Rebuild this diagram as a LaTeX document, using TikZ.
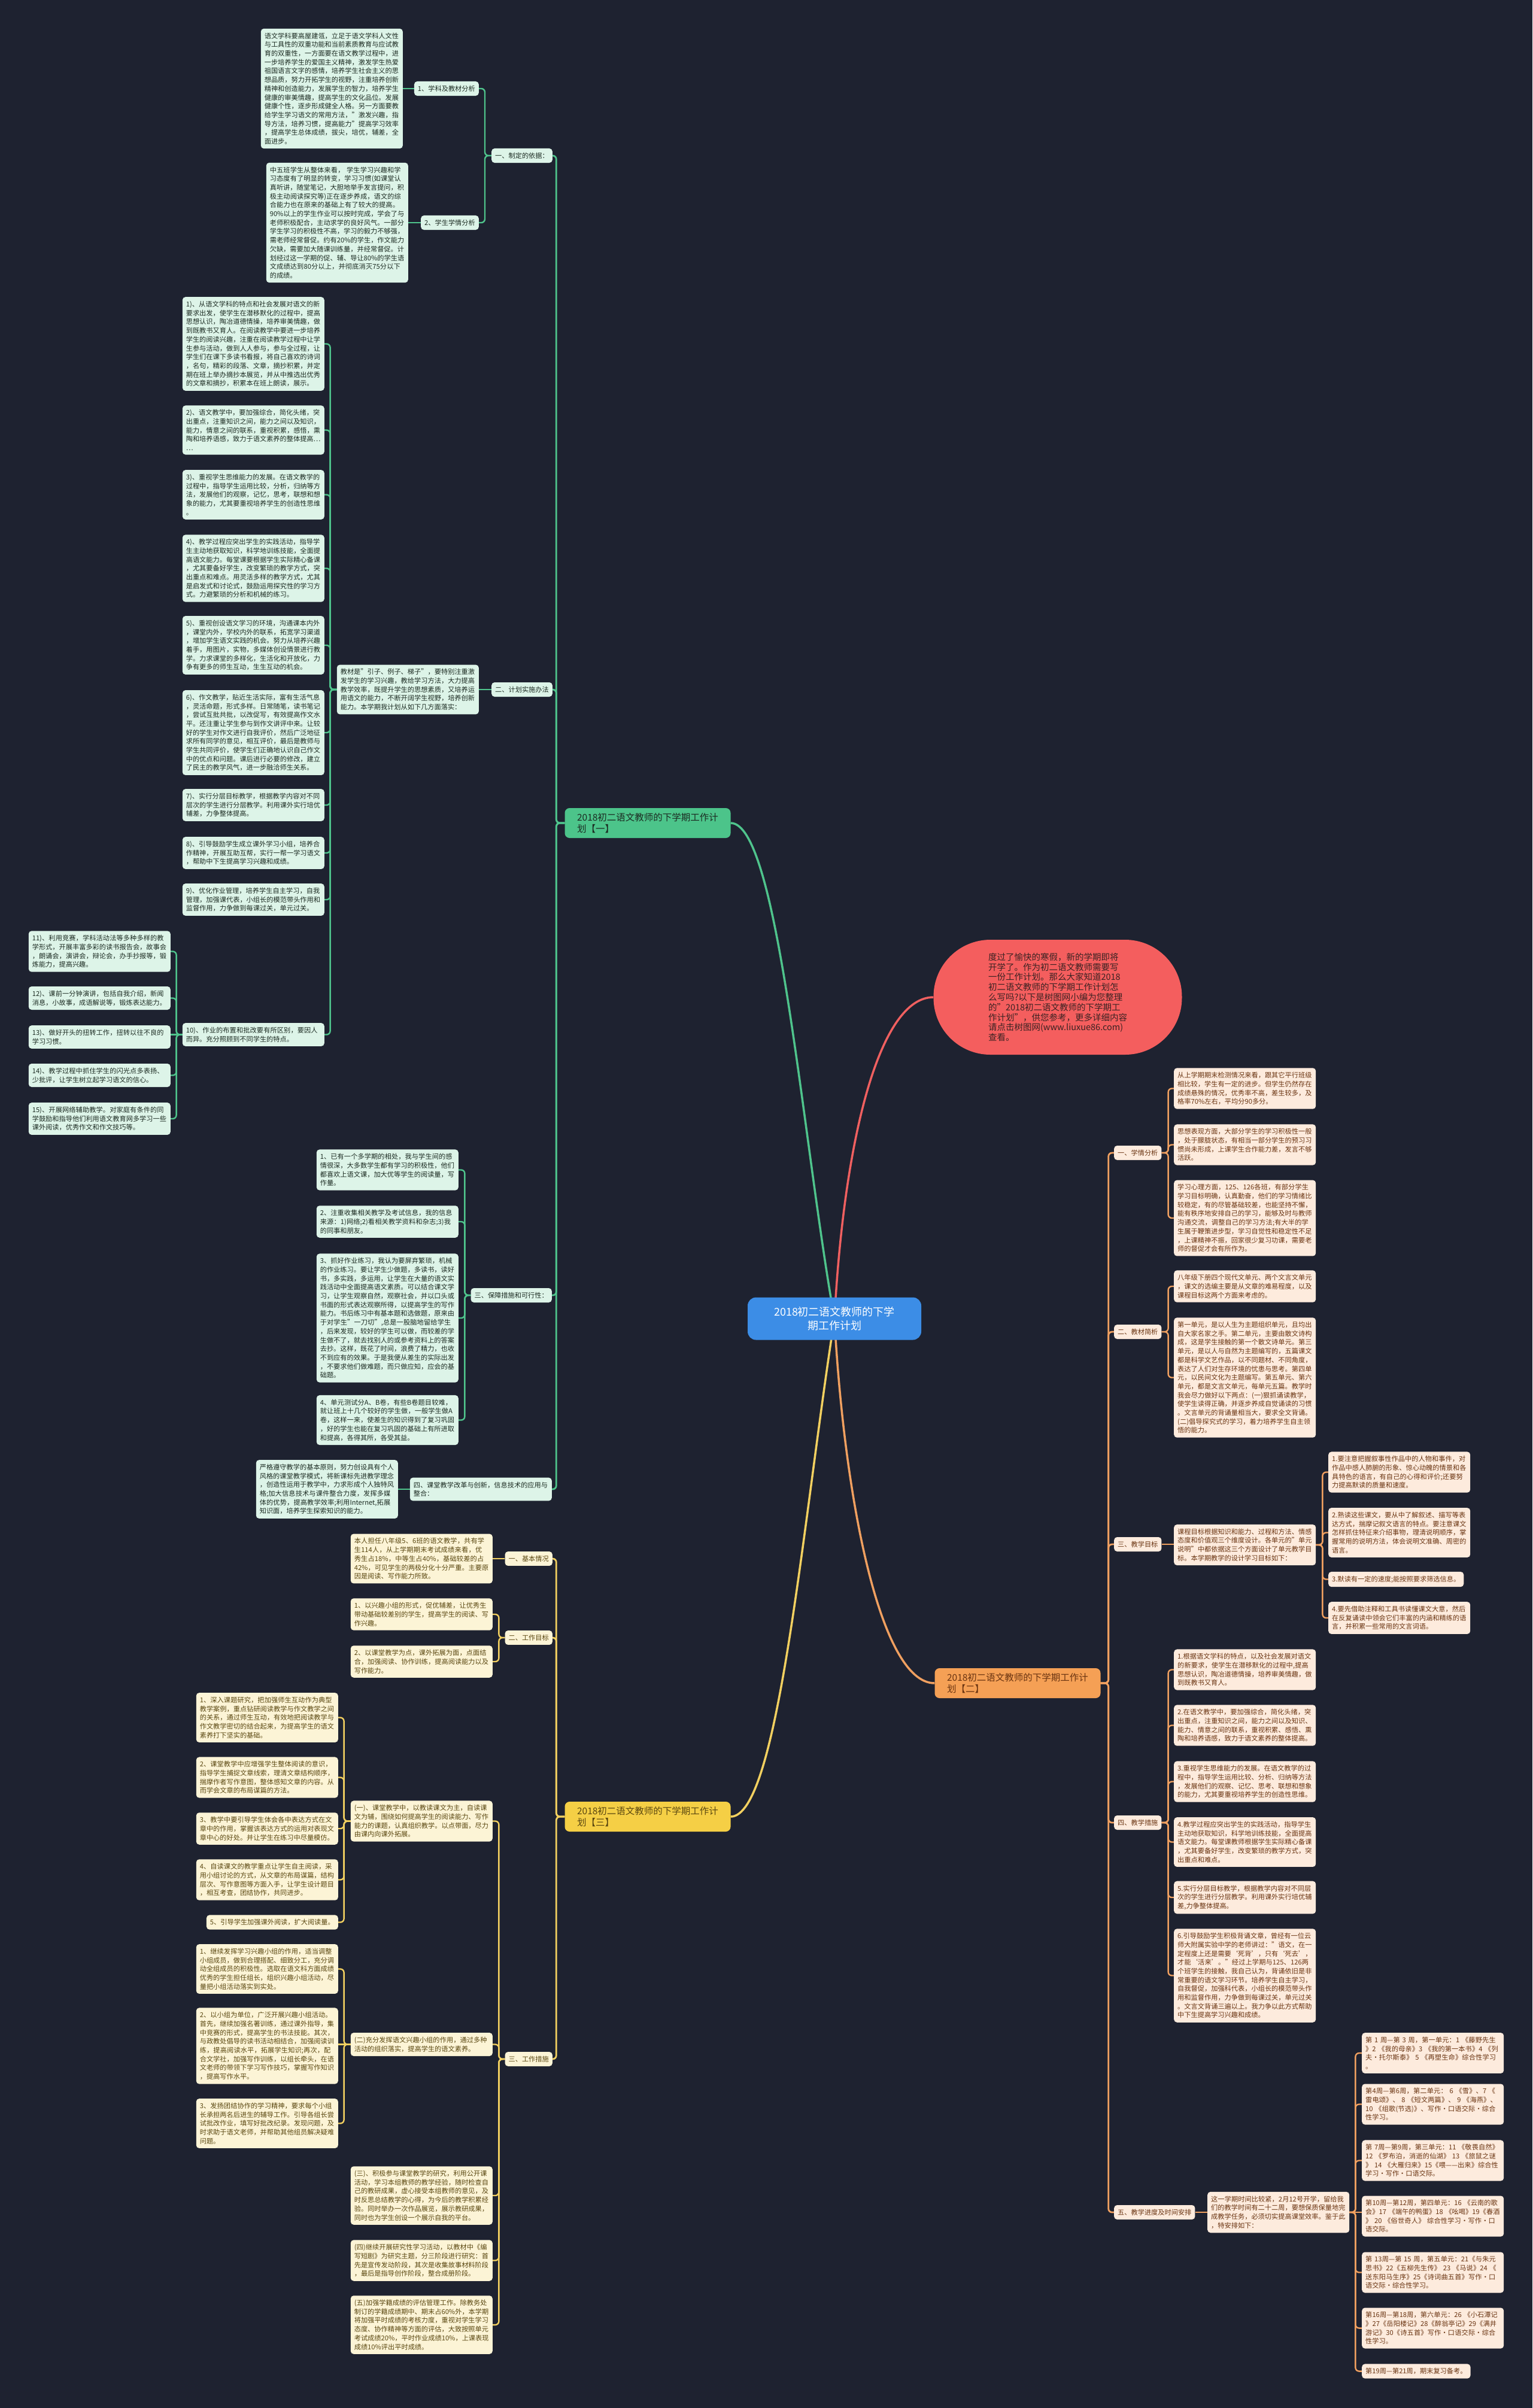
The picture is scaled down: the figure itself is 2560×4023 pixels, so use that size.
\documentclass[tikz,border=0pt]{standalone}
\usepackage{fontspec}
\setmainfont{Noto Sans CJK SC}
\usetikzlibrary{backgrounds}
\XeTeXinterchartokenstate=1
\newcount\cjkcnt
\cjkcnt="3000
\loop\XeTeXcharclass\cjkcnt=1 \advance\cjkcnt by 1 \ifnum\cjkcnt<"A000 \repeat
\cjkcnt="FF00
\loop\XeTeXcharclass\cjkcnt=1 \advance\cjkcnt by 1 \ifnum\cjkcnt<"FFF0 \repeat
\XeTeXcharclass"2014=1 \XeTeXcharclass"2018=1 \XeTeXcharclass"2019=1
\XeTeXcharclass"201C=1 \XeTeXcharclass"201D=1 \XeTeXcharclass"2026=1 \XeTeXcharclass"2022=1
\XeTeXinterchartoks 1 1 = {\hskip0pt plus 0.5pt\relax}
\XeTeXinterchartoks 0 1 = {\hskip0pt plus 0.5pt\relax}
\XeTeXinterchartoks 1 0 = {\hskip0pt plus 0.5pt\relax}
\definecolor{bgc}{HTML}{1E2230}
\definecolor{gline}{HTML}{4FC48C}
\definecolor{gfill}{HTML}{DDF4E8}
\definecolor{gtext}{HTML}{1C2B22}
\definecolor{gnode}{HTML}{4CC48A}
\definecolor{oline}{HTML}{F0A060}
\definecolor{ofill}{HTML}{FDEBDD}
\definecolor{otext}{HTML}{6A3411}
\definecolor{onode}{HTML}{F5A055}
\definecolor{yline}{HTML}{F2D060}
\definecolor{yfill}{HTML}{FCF4D6}
\definecolor{ytext}{HTML}{5A4710}
\definecolor{ynode}{HTML}{F5CF45}
\definecolor{rnode}{HTML}{F45E5E}
\definecolor{rline}{HTML}{F06060}
\definecolor{rtext}{HTML}{3A2222}
\definecolor{cnode}{HTML}{3C8DE6}
\tikzset{
 base/.style={rectangle, rounded corners=5pt, font=\fontsize{11.2pt}{14.7pt}\selectfont, inner xsep=6pt, inner ysep=6.8pt},
 tbx/.style={base, text width=225pt, align=left},
 gbx/.style={tbx, fill=gfill, text=gtext},
 obx/.style={tbx, fill=ofill, text=otext},
 ybx/.style={tbx, fill=yfill, text=ytext},
 glb/.style={base, fill=gfill, text=gtext},
 olb/.style={base, fill=ofill, text=otext},
 ylb/.style={base, fill=yfill, text=ytext},
 brn/.style={rectangle, rounded corners=8pt, minimum width=277pt, minimum height=50pt, align=left, font=\fontsize{15.5pt}{19pt}\selectfont, inner xsep=10pt},
 gk/.style={draw=gline, line width=2.4pt, rounded corners=6pt},
 ok/.style={draw=oline, line width=2.4pt, rounded corners=6pt},
 yk/.style={draw=yline, line width=2.4pt, rounded corners=6pt},
 rootk/.style={line width=3.5pt},
}
\begin{document}
\begin{tikzpicture}[x=1pt,y=-1pt]
\useasboundingbox (0,0) rectangle (2560,4023);
\begin{scope}[on background layer]
\fill[bgc] (0,0) rectangle (2560,4023);
\end{scope}

% ---------- centre, intro, branches ----------
\node[fill=cnode, text=white, rounded corners=14pt, minimum width=290pt, minimum height=71pt, align=center, font=\fontsize{18pt}{23pt}\selectfont] (c) at (1394,2203) {2018初二语文教师的下学\\期工作计划};
\node[fill=rnode, text=rtext, rounded corners=95pt, minimum width=415pt, minimum height=192pt, align=left, font=\fontsize{14.5pt}{16.8pt}\selectfont] (r) at (1767,1666) {度过了愉快的寒假，新的学期即将\\开学了。作为初二语文教师需要写\\一份工作计划。那么大家知道2018\\初二语文教师的下学期工作计划怎\\么写吗?以下是树图网小编为您整理\\的"2018初二语文教师的下学期工\\作计划"，供您参考，更多详细内容\\请点击树图网(www.liuxue86.com)\\查看。};
\node[brn, fill=gnode, text=gtext] (G) at (1082,1375) {2018初二语文教师的下学期工作计\\划【一】};
\node[brn, fill=onode, text=otext] (O) at (1700,2812) {2018初二语文教师的下学期工作计\\划【二】};
\node[brn, fill=ynode, text=ytext] (Y) at (1082,3035) {2018初二语文教师的下学期工作计\\划【三】};

% ---------- green branch ----------
\node[glb, anchor=east] (g1) at (923,260) {一、制定的依据：};
\node[glb, anchor=east] (g1a) at (800,148) {1、学科及教材分析};
\node[glb, anchor=east] (g1b) at (800,372) {2、学生学情分析};
\node[gbx, anchor=east] (g1at) at (673,148) {语文学科要高屋建瓴，立足于语文学科人文性与工具性的双重功能和当前素质教育与应试教育的双重性，一方面要在语文教学过程中，进一步培养学生的爱国主义精神，激发学生热爱祖国语言文字的感情，培养学生社会主义的思想品质，努力开拓学生的视野，注重培养创新精神和创造能力，发展学生的智力，培养学生健康的审美情趣，提高学生的文化品位。发展健康个性，逐步形成健全人格。另一方面要教给学生学习语文的常用方法，"激发兴趣，指导方法，培养习惯，提高能力"提高学习效率，提高学生总体成绩，拔尖，培优，辅差，全面进步。};
\node[gbx, anchor=east] (g1bt) at (682,372) {中五班学生从整体来看， 学生学习兴趣和学习态度有了明显的转变，学习习惯(如课堂认真听讲，随堂笔记，大胆地举手发言提问，积极主动阅读探究等)正在逐步养成，语文的综合能力也在原来的基础上有了较大的提高。90\%以上的学生作业可以按时完成，学会了与老师积极配合，主动求学的良好风气。一部分学生学习的积极性不高，学习的毅力不够强，需老师经常督促。约有20\%的学生，作文能力欠缺，需要加大随课训练量，并经常督促。计划经过这一学期的促、辅、导让80\%的学生语文成绩达到80分以上，并彻底消灭75分以下的成绩。};

\node[glb, anchor=east] (g2) at (923,1152) {二、计划实施办法};
\node[gbx, anchor=east] (g2t) at (800,1152) {教材是"引子、例子、梯子"，要特别注重激发学生的学习兴趣，教给学习方法，大力提高教学效率，既提升学生的思想素质，又培养运用语文的能力，不断开阔学生视野，培养创新能力。本学期我计划从如下几方面落实：};
\node[gbx, anchor=east] (k1) at (542,574.5) {1)、从语文学科的特点和社会发展对语文的新要求出发，使学生在潜移默化的过程中，提高思想认识，陶冶道德情操，培养审美情趣，做到既教书又育人。在阅读教学中要进一步培养学生的阅读兴趣，注重在阅读教学过程中让学生参与活动，做到人人参与，参与全过程，让学生们在课下多读书看报，将自己喜欢的诗词，名句，精彩的段落、文章，摘抄积累，并定期在班上举办摘抄本展览，并从中推选出优秀的文章和摘抄，积累本在班上朗读，展示。};
\node[gbx, anchor=east] (k2) at (542,718.5) {2)、语文教学中，要加强综合，简化头绪，突出重点，注重知识之间，能力之间以及知识，能力，情意之间的联系，重视积累，感悟，熏陶和培养语感，致力于语文素养的整体提高……};
\node[gbx, anchor=east] (k3) at (542,826.5) {3)、重视学生思维能力的发展。在语文教学的过程中，指导学生运用比较，分析，归纳等方法，发展他们的观察，记忆，思考，联想和想象的能力，尤其要重视培养学生的创造性思维。};
\node[gbx, anchor=east] (k4) at (542,949.5) {4)、教学过程应突出学生的实践活动，指导学生主动地获取知识，科学地训练技能，全面提高语文能力。每堂课要根据学生实际精心备课，尤其要备好学生，改变繁琐的教学方式，突出重点和难点。用灵活多样的教学方式，尤其是启发式和讨论式，鼓励运用探究性的学习方式。力避繁琐的分析和机械的练习。};
\node[gbx, anchor=east] (k5) at (542,1078) {5)、重视创设语文学习的环境，沟通课本内外，课堂内外，学校内外的联系，拓宽学习渠道，增加学生语文实践的机会。努力从培养兴趣着手，用图片，实物，多媒体创设情景进行教学。力求课堂的多样化，生活化和开放化，力争有更多的师生互动，生生互动的机会。};
\node[gbx, anchor=east] (k6) at (542,1224) {6)、作文教学，贴近生活实际，富有生活气息，灵活命题，形式多样。日常随笔，读书笔记，尝试互批共批，以改促写，有效提高作文水平。还注重让学生参与到作文讲评中来。让较好的学生对作文进行自我评价，然后广泛地征求所有同学的意见，相互评价，最后是教师与学生共同评价，使学生们正确地认识自己作文中的优点和问题。课后进行必要的修改，建立了民主的教学风气，进一步融洽师生关系。};
\node[gbx, anchor=east] (k7) at (542,1345) {7)、实行分层目标教学，根据教学内容对不同层次的学生进行分层教学。利用课外实行培优辅差，力争整体提高。};
\node[gbx, anchor=east] (k8) at (542,1425) {8)、引导鼓励学生成立课外学习小组，培养合作精神，开展互助互帮，实行一帮一学习语文，帮助中下生提高学习兴趣和成绩。};
\node[gbx, anchor=east] (k9) at (542,1503) {9)、优化作业管理，培养学生自主学习，自我管理，加强课代表，小组长的模范带头作用和监督作用，力争做到每课过关，单元过关。};
\node[gbx, anchor=east] (k10) at (542,1728.5) {10)、作业的布置和批改要有所区别，要因人而异。充分照顾到不同学生的特点。};
\node[gbx, anchor=east] (k11) at (285,1589.5) {11)、利用竞赛，学科活动法等多种多样的教学形式，开展丰富多彩的读书报告会，故事会，朗诵会，演讲会，辩论会，办手抄报等，锻炼能力，提高兴趣。};
\node[gbx, anchor=east] (k12) at (285,1667.5) {12)、课前一分钟演讲，包括自我介绍，新闻消息，小故事，成语解说等，锻炼表达能力。};
\node[gbx, anchor=east] (k13) at (285,1732.5) {13)、做好开头的扭转工作，扭转以往不良的学习习惯。};
\node[gbx, anchor=east] (k14) at (285,1796.5) {14)、教学过程中抓住学生的闪光点多表扬、少批评，让学生树立起学习语文的信心。};
\node[gbx, anchor=east] (k15) at (285,1869) {15)、开展网络辅助教学。对家庭有条件的同学鼓励和指导他们利用语文教育网多学习一些课外阅读，优秀作文和作文技巧等。};

\node[glb, anchor=east] (g3) at (922,2164) {三、保障措施和可行性：};
\node[gbx, anchor=east] (s1) at (766,1954.5) {1、已有一个多学期的相处，我与学生间的感情很深，大多数学生都有学习的积极性，他们都喜欢上语文课，加大优等学生的阅读量，写作量。};
\node[gbx, anchor=east] (s2) at (766,2041) {2、注重收集相关教学及考试信息，我的信息来源：1)网络;2)看相关教学资料和杂志;3)我的同事和朋友。};
\node[gbx, anchor=east] (s3) at (766,2202) {3、抓好作业练习，我认为要屏弃繁琐，机械的作业练习。要让学生少做题，多读书，读好书，多实践，多运用，让学生在大量的语文实践活动中全面提高语文素质。可以结合课文学习，让学生观察自然，观察社会，并以口头或书面的形式表达观察所得，以提高学生的写作能力。书后练习中有基本题和选做题，原来由于对学生"一刀切",总是一股脑地留给学生，后来发现，较好的学生可以做，而较差的学生做不了，就去找别人的或参考资料上的答案去抄。这样，既花了时间，浪费了精力，也收不到应有的效果。于是我便从差生的实际出发，不要求他们做难题，而只做应知，应会的基础题。};
\node[gbx, anchor=east] (s4) at (766,2372.5) {4、单元测试分A、B卷，有些B卷题目较难，就让班上十几个较好的学生做，一般学生做A卷，这样一来，使差生的知识得到了复习巩固，好的学生也能在复习巩固的基础上有所进取和提高，各得其所，各受其益。};

\node[glb, anchor=east, text width=225pt, align=left] (g4) at (922,2488) {四、课堂教学改革与创新，信息技术的应用与整合：};
\node[gbx, anchor=east] (g4t) at (665,2488) {严格遵守教学的基本原则，努力创设具有个人风格的课堂教学模式，将新课标先进教学理念，创造性运用于教学中，力求形成个人独特风格;加大信息技术与课件整合力度，发挥多媒体的优势，提高教学效率;利用Internet,拓展知识面，培养学生探索知识的能力。};

% ---------- yellow branch ----------
\node[ylb, anchor=east] (y1) at (923,2604) {一、基本情况};
\node[ybx, anchor=east] (y1t) at (823,2604) {本人担任八年级5、6班的语文教学，共有学生114人，从上学期期末考试成绩来看，优秀生占18\%，中等生占40\%，基础较差的占42\%，可见学生的两极分化十分严重。主要原因是阅读、写作能力所致。};
\node[ylb, anchor=east] (y2) at (923,2736) {二、工作目标};
\node[ybx, anchor=east] (y2a) at (823,2697) {1、以兴趣小组的形式，促优辅差，让优秀生带动基础较差别的学生，提高学生的阅读、写作兴趣。};
\node[ybx, anchor=east] (y2b) at (823,2776) {2、以课堂教学为点，课外拓展为面，点面结合，加强阅读、协作训练，提高阅读能力以及写作能力。};
\node[ylb, anchor=east] (y3) at (923,3440) {三、工作措施};
\node[ybx, anchor=east] (ya) at (823,3042.5) {(一)、课堂教学中，以教读课文为主，自读课文为辅，围绕如何提高学生的阅读能力、写作能力的课题，认真组织教学。以点带面，尽力由课内向课外拓展。};
\node[ybx, anchor=east] (ya1) at (565,2869.5) {1、深入课题研究，把加强师生互动作为典型教学案例，重点钻研阅读教学与作文教学之间的关系，通过师生互动，有效地把阅读教学与作文教学密切的结合起来，为提高学生的语文素养打下坚实的基础。};
\node[ybx, anchor=east] (ya2) at (565,2969.5) {2、课堂教学中应增强学生整体阅读的意识，指导学生捕捉文章线索，理清文章结构顺序，揣摩作者写作意图，整体感知文章的内容。从而学会文章的布局谋篇的方法。};
\node[ybx, anchor=east] (ya3) at (565,3055) {3、教学中要引导学生体会各中表达方式在文章中的作用，掌握该表达方式的运用对表现文章中心的好处。并让学生在练习中尽量模仿。};
\node[ybx, anchor=east] (ya4) at (565,3140.5) {4、自读课文的教学重点让学生自主阅读，采用小组讨论的方式，从文章的布局谋篇，结构层次、写作意图等方面入手，让学生设计题目，相互考查，团结协作，共同进步。};
\node[ylb, anchor=east] (ya5) at (565,3211.5) {5、引导学生加强课外阅读，扩大阅读量。};
\node[ybx, anchor=east] (yb) at (823,3415.5) {(二)充分发挥语文兴趣小组的作用，通过多种活动的组织落实，提高学生的语文素养。};
\node[ybx, anchor=east] (yb1) at (565,3289.5) {1、继续发挥学习兴趣小组的作用，适当调整小组成员，做到合理搭配、细致分工，充分调动全组成员的积极性。选取在语文科方面成绩优秀的学生担任组长，组织兴趣小组活动，尽量把小组活动落实到实处。};
\node[ybx, anchor=east] (yb2) at (565,3418) {2、以小组为单位，广泛开展兴趣小组活动。首先，继续加强名著训练，通过课外指导，集中竞赛的形式，提高学生的书法技能。其次，与政教处倡导的读书活动相结合，加强阅读训练，提高阅读水平，拓展学生知识;再次，配合文学社，加强写作训练，以组长牵头，在语文老师的带领下学习写作技巧，掌握写作知识，提高写作水平。};
\node[ybx, anchor=east] (yb3) at (565,3547.5) {3、发扬团结协作的学习精神，要求每个小组长承担两名后进生的辅导工作。引导各组长尝试批改作业，填写好批改纪录。发现问题，及时求助于语文老师，并帮助其他组员解决疑难问题。};
\node[ybx, anchor=east] (yc) at (823,3668) {(三)、积极参与课堂教学的研究，利用公开课活动，学习本组教师的教学经验，随时检查自己的教研成果，虚心接受本组教师的意见，及时反思总结教学的心得，为今后的教学积累经验。同时举办一次作品展览，展示教研成果，同时也为学生创设一个展示自我的平台。};
\node[ybx, anchor=east] (yd) at (823,3776.5) {(四)继续开展研究性学习活动，以教材中《编写短剧》为研究主题，分三阶段进行研究：首先是宣传发动阶段，其次是收集故事材料阶段，最后是指导创作阶段，整合成册阶段。};
\node[ybx, anchor=east] (ye) at (823,3884) {(五)加强学籍成绩的评估管理工作。除教务处制订的学籍成绩期中、期末占60\%外，本学期将加强平时成绩的考核力度，重视对学生学习态度、协作精神等方面的评估，大致按照单元考试成绩20\%，平时作业成绩10\%，上课表现成绩10\%评出平时成绩。};

% ---------- orange branch ----------
\node[olb, anchor=west] (o1) at (1861,1926) {一、学情分析};
\node[obx, anchor=west] (c1) at (1961,1818.5) {从上学期期末检测情况来看，跟其它平行班级相比较，学生有一定的进步。但学生仍然存在成绩悬殊的情况，优秀率不高，差生较多，及格率70\%左右，平均分90多分。};
\node[obx, anchor=west] (c2) at (1961,1912.5) {思想表现方面，大部分学生的学习积极性一般，处于朦胧状态，有相当一部分学生的预习习惯尚未形成，上课学生合作能力差，发言不够活跃。};
\node[obx, anchor=west] (c3) at (1961,2035) {学习心理方面，125、126各班，有部分学生学习目标明确，认真勤奋，他们的学习情绪比较稳定，有的尽管基础较差，也能坚持不懈，能有秩序地安排自己的学习，能够及时与教师沟通交流，调整自己的学习方法;有大半的学生属于鞭策进步型，学习自觉性和稳定性不足，上课精神不振，回家很少复习功课，需要老师的督促才会有所作为。};
\node[olb, anchor=west] (o2) at (1861,2225) {二、教材简析};
\node[obx, anchor=west] (d1) at (1961,2149) {八年级下册四个现代文单元、两个文言文单元，课文的选编主要是从文章的难易程度，以及课程目标这两个方面来考虑的。};
\node[obx, anchor=west] (d2) at (1961,2301.5) {第一单元，是以人生为主题组织单元，且均出自大家名家之手。第二单元，主要由散文诗构成，这是学生接触的第一个散文诗单元。第三单元，是以人与自然为主题编写的，五篇课文都是科学文艺作品，以不同题材、不同角度，表达了人们对生存环境的忧患与思考。第四单元，以民间文化为主题编写。第五单元、第六单元，都是文言文单元，每单元五篇。教学时我会尽力做好以下两点：(一)狠抓诵读教学，使学生读得正确，并逐步养成自觉诵读的习惯。文言单元的背诵量相当大，要求全文背诵。(二)倡导探究式的学习，着力培养学生自主领悟的能力。};
\node[olb, anchor=west] (o3) at (1861,2580) {三、教学目标};
\node[obx, anchor=west] (e0) at (1961,2581) {课程目标根据知识和能力、过程和方法、情感态度和价值观三个维度设计。各单元的"单元说明"中都依据这三个方面设计了单元教学目标。本学期教学的设计学习目标如下：};
\node[obx, anchor=west] (e1) at (2219,2459.5) {1.要注意把握叙事性作品中的人物和事件，对作品中感人肺腑的形象、惊心动魄的情景和各具特色的语言，有自己的心得和评价;还要努力提高默读的质量和速度。};
\node[obx, anchor=west] (e2) at (2219,2560.5) {2.熟读这些课文，要从中了解叙述、描写等表达方式，揣摩记叙文语言的特点。要注意课文怎样抓住特征来介绍事物，理清说明顺序，掌握常用的说明方法，体会说明文准确、周密的语言。};
\node[olb, anchor=west] (e3) at (2219,2638.5) {3.默读有一定的速度;能按照要求筛选信息。};
\node[obx, anchor=west] (e4) at (2219,2703) {4.要先借助注释和工具书读懂课文大意，然后在反复诵读中领会它们丰富的内涵和精练的语言，并积累一些常用的文言词语。};
\node[olb, anchor=west] (o4) at (1861,3045) {四、教学措施};
\node[obx, anchor=west] (f1) at (1961,2789.5) {1.根据语文学科的特点，以及社会发展对语文的新要求，使学生在潜移默化的过程中,提高思想认识，陶冶道德情操，培养审美情趣，做到既教书又育人。};
\node[obx, anchor=west] (f2) at (1961,2882.5) {2.在语文教学中，要加强综合，简化头绪，突出重点，注重知识之间，能力之间以及知识、能力、情意之间的联系，重视积累、感悟、熏陶和培养语感，致力于语文素养的整体提高。};
\node[obx, anchor=west] (f3) at (1961,2976.5) {3.重视学生思维能力的发展。在语文教学的过程中，指导学生运用比较、分析、归纳等方法，发展他们的观察、记忆、思考、联想和想象的能力，尤其要重视培养学生的创造性思维。};
\node[obx, anchor=west] (f4) at (1961,3077.5) {4.教学过程应突出学生的实践活动，指导学生主动地获取知识，科学地训练技能，全面提高语文能力。每堂课教师根据学生实际精心备课，尤其要备好学生，改变繁琐的教学方式，突出重点和难点。};
\node[obx, anchor=west] (f5) at (1961,3170) {5.实行分层目标教学，根据教学内容对不同层次的学生进行分层教学。利用课外实行培优辅差,力争整体提高。};
\node[obx, anchor=west] (f6) at (1961,3300.5) {6.引导鼓励学生积极背诵文章，曾经有一位云师大附属实验中学的老师讲过："语文，在一定程度上还是需要‘死背’，只有‘死去’，才能‘活来’。"经过上学期与125、126两个班学生的接触，我自己认为，背诵依旧是非常重要的语文学习环节。培养学生自主学习，自我督促，加强科代表，小组长的模范带头作用和监督作用，力争做到每课过关，单元过关。文言文背诵三遍以上。我力争以此方式帮助中下生提高学习兴趣和成绩。};
\node[olb, anchor=west] (o5) at (1861,3696) {五、教学进度及时间安排};
\node[obx, anchor=west] (p0) at (2017,3696) {这一学期时间比较紧，2月12号开学，留给我们的教学时间有二十二周，要想保质保量地完成教学任务，必须切实提高课堂效率。鉴于此，特安排如下：};
\node[obx, anchor=west] (h1) at (2275,3430) {第 1 周—第 3 周，第一单元：1 《藤野先生》2 《我的母亲》3 《我的第一本书》4 《列夫•托尔斯泰》 5 《再塑生命》综合性学习。};
\node[obx, anchor=west] (h2) at (2275,3515.5) {第4周—第6周，第二单元： 6 《雪》、7 《雷电颂》、 8 《短文两篇》、 9 《海燕》、10 《组歌(节选)》、写作•口语交际•综合性学习。};
\node[obx, anchor=west] (h3) at (2275,3609.5) {第 7周—第9周，第三单元：11 《敬畏自然》12 《罗布泊，消逝的仙湖》 13 《旅鼠之谜》 14 《大雁归来》15《喂——出来》综合性学习•写作•口语交际。};
\node[obx, anchor=west] (h4) at (2275,3702.5) {第10周—第12周，第四单元：16 《云南的歌会》17 《端午的鸭蛋》18 《吆喝》19《春酒》 20 《俗世奇人》 综合性学习•写作•口语交际。};
\node[obx, anchor=west] (h5) at (2275,3796.5) {第 13周—第 15 周，第五单元：21《与朱元思书》22《五柳先生传》 23 《马说》24 《送东阳马生序》25《诗词曲五首》写作•口语交际•综合性学习。};
\node[obx, anchor=west] (h6) at (2275,3889.5) {第16周—第18周，第六单元：26 《小石潭记》27《岳阳楼记》28《醉翁亭记》29《满井游记》30《诗五首》写作•口语交际•综合性学习。};
\node[olb, anchor=west] (h7) at (2275,3961.5) {第19周—第21周，期末复习备考。};

% ---------- connectors ----------
\begin{scope}[on background layer]
\draw[rline, rootk] (c.center) .. controls (1410,1900) and (1470,1666) .. (r.west);
\draw[gline, rootk] (c.center) .. controls (1340,1900) and (1300,1375) .. (G.east);
\draw[oline, rootk] (c.center) .. controls (1410,2500) and (1470,2812) .. (O.west);
\draw[yline, rootk] (c.center) .. controls (1340,2550) and (1300,3035) .. (Y.east);

% green
\foreach \n in {g1,g2,g3,g4} \draw[gk, line width=2.8pt] (G.west) -- ++(-14,0) |- (\n.east);
\foreach \n in {g1a,g1b} \draw[gk] (g1.west) -- ++(-11,0) |- (\n.east);
\draw[gk] (g1a.west) -- (g1a.west -| g1at.east);
\draw[gk] (g1b.west) -- (g1b.west -| g1bt.east);
\draw[gk] (g2.west) -- (g2.west -| g2t.east);
\foreach \n in {k1,k2,k3,k4,k5,k6,k7,k8,k9,k10} \draw[gk] (g2t.west) -- ++(-11,0) |- (\n.east);
\foreach \n in {k11,k12,k14,k15} \draw[gk] (k10.west) -- ++(-10,0) |- (\n.east);
\draw[gk] (k10.west) -- (k10.west -| k13.east);
\foreach \n in {s1,s2,s3,s4} \draw[gk] (g3.west) -- ++(-10,0) |- (\n.east);
\draw[gk] (g4.west) -- (g4.west -| g4t.east);

% yellow
\foreach \n in {y1,y2,y3} \draw[yk, line width=2.8pt] (Y.west) -- ++(-14,0) |- (\n.east);
\draw[yk] (y1.west) -- (y1.west -| y1t.east);
\foreach \n in {y2a,y2b} \draw[yk] (y2.west) -- ++(-10,0) |- (\n.east);
\foreach \n in {ya,yb,yc,yd,ye} \draw[yk] (y3.west) -- ++(-10,0) |- (\n.east);
\foreach \n in {ya1,ya2,ya3,ya4,ya5} \draw[yk] (ya.west) -- ++(-11,0) |- (\n.east);
\foreach \n in {yb1,yb3} \draw[yk] (yb.west) -- ++(-11,0) |- (\n.east);
\draw[yk] (yb.west) -- (yb.west -| yb2.east);

% orange
\foreach \n in {o1,o2,o3,o4,o5} \draw[ok, line width=2.8pt] (O.east) -- ++(13,0) |- (\n.west);
\foreach \n in {c1,c2,c3} \draw[ok] (o1.east) -- ++(11,0) |- (\n.west);
\foreach \n in {d1,d2} \draw[ok] (o2.east) -- ++(11,0) |- (\n.west);
\draw[ok] (o3.east) -- (o3.east -| e0.west);
\foreach \n in {e1,e2,e3,e4} \draw[ok] (e0.east) -- ++(11,0) |- (\n.west);
\foreach \n in {f1,f2,f3,f4,f5,f6} \draw[ok] (o4.east) -- ++(11,0) |- (\n.west);
\draw[ok] (o5.east) -- (o5.east -| p0.west);
\foreach \n in {h1,h2,h3,h5,h6,h7} \draw[ok] (p0.east) -- ++(10,0) |- (\n.west);
\draw[ok] (p0.east) -- (p0.east -| h4.west);
\end{scope}
\end{tikzpicture}
\end{document}
